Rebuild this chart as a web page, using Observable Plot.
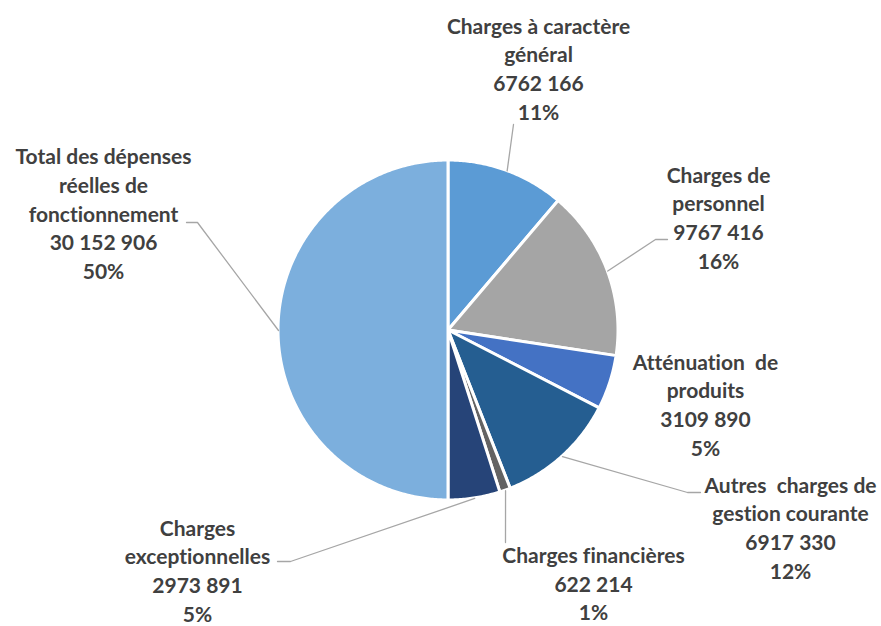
<!DOCTYPE html>
<html>
<head>
<meta charset="utf-8">
<script src="https://cdn.jsdelivr.net/npm/d3@7"></script>
<script src="https://cdn.jsdelivr.net/npm/@observablehq/plot@0.6"></script>
<style>
  html, body { margin: 0; padding: 0; background: #fff; }
  #chart { width: 881px; height: 626px; }
  #chart text { font-variant-ligatures: none; font-feature-settings: "liga" 0, "dlig" 0; }
</style>
</head>
<body>
<div id="chart"></div>
<script>
// ---- data ----
const categories = [
  "Charges à caractère général",
  "Charges de personnel",
  "Atténuation de produits",
  "Autres charges de gestion courante",
  "Charges financières",
  "Charges exceptionnelles",
  "Total des dépenses réelles de fonctionnement"
];
const values = [6762166, 9767416, 3109890, 6917330, 622214, 2973891, 30152906];
const valueLabels = ["6762 166", "9767 416", "3109 890", "6917 330", "622 214", "2973 891", "30 152 906"];
const pctLabels = ["11%", "16%", "5%", "12%", "1%", "5%", "50%"];
const colors = ["#5B9BD5", "#A5A5A5", "#4472C4", "#255E91", "#636363", "#264478", "#7CAFDD"];

// ---- layout ----
const W = 881, H = 626;
const cx = 448, cy = 330, R = 170;
const nameLines = [
  ["Charges à caractère", "général"],
  ["Charges de", "personnel"],
  ["Atténuation  de", "produits"],
  ["Autres  charges de", "gestion courante"],
  ["Charges financières"],
  ["Charges", "exceptionnelles"],
  ["Total des dépenses", "réelles de", "fonctionnement"]
];
const labelCenter = [[538, 67], [718, 216], [705, 403], [790, 526], [593, 582], [197, 569], [103, 212]];
// leader: intermediate points after the arc start (pixel layout)
const leaderPts = [
  [[513, 124]],
  [[655, 239], [667, 239]],
  null,
  [[687, 492], [700, 492]],
  [[505, 542]],
  [[290, 561], [277, 561]],
  [[197, 222], [186, 222]]
];

// ---- geometry from data via d3.pie ----
const pie = d3.pie().sort(null).value(d => d)(values);
const arcPts = [];
pie.forEach((p, i) => {
  const n = Math.max(2, Math.ceil((p.endAngle - p.startAngle) / 0.01));
  for (let k = 0; k <= n; k++) {
    const a = p.startAngle + (p.endAngle - p.startAngle) * k / n;
    arcPts.push({name: categories[i], x1: cx, y1: cy, x2: cx + R * Math.sin(a), y2: cy - R * Math.cos(a)});
  }
});

const leaders = [];
pie.forEach((p, i) => {
  if (!leaderPts[i]) return;
  const a = (p.startAngle + p.endAngle) / 2;
  leaders.push({id: i, x: cx + R * Math.sin(a), y: cy - R * Math.cos(a)});
  leaderPts[i].forEach(([x, y]) => leaders.push({id: i, x, y}));
});

const labels = categories.map((c, i) => ({
  text: [...nameLines[i], valueLabels[i], pctLabels[i]].join("\n"),
  x: labelCenter[i][0], y: labelCenter[i][1]
}));

const plot = Plot.plot({
  width: W, height: H,
  margin: 0,
  x: {domain: [0, W], range: [0, W], axis: null},
  y: {domain: [0, H], range: [0, H], axis: null},
  color: {domain: categories, range: colors},
  style: {background: "#fff"},
  marks: [
    Plot.area(arcPts, {x1: "x1", y1: "y1", x2: "x2", y2: "y2", z: "name", fill: "name",
      stroke: "white", strokeWidth: 3, strokeLinejoin: "round"}),
    Plot.line(leaders, {x: "x", y: "y", z: "id", stroke: "#A6A6A6", strokeWidth: 1.3}),
    Plot.text(labels, {x: "x", y: "y", text: "text", lineAnchor: "middle", textAnchor: "middle",
      fontSize: 21, lineHeight: 1.366, fontWeight: "bold", fill: "#404040",
      fontFamily: "Lato, 'Noto Sans', sans-serif"})
  ]
});
document.getElementById("chart").appendChild(plot);
</script>
</body>
</html>
